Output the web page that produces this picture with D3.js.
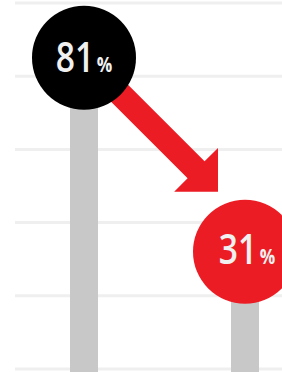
<!DOCTYPE html>
<html><head><meta charset="utf-8">
<script src="https://cdn.jsdelivr.net/npm/d3@7"></script>
<style>html,body{margin:0;padding:0;background:#fff;overflow:hidden}svg{display:block}</style>
</head><body>
<script>
const categories = ["Before", "After"];
const values = [81, 31];
const gridTicks = [0, 20, 40, 60, 80, 100];
const labelUnit = "%";

const W = 282, H = 372;
const svg = d3.select("body").append("svg").attr("width", W).attr("height", H);

const x = d3.scalePoint().domain(categories).range([84, 245]);
const y = d3.scaleLinear().domain([0, 100]).range([372, -16]);
const gy = d3.scaleLinear().domain([0, 100]).range([369, 3]);

// gridlines
svg.append("g").selectAll("line").data(gridTicks).join("line")
  .attr("x1", 15).attr("x2", W)
  .attr("y1", d => gy(d)).attr("y2", d => gy(d))
  .attr("stroke", "#efefef").attr("stroke-width", 3);

// bars
const bw = 28;
svg.append("g").selectAll("rect").data(values).join("rect")
  .attr("x", (d, i) => x(categories[i]) - bw / 2)
  .attr("width", bw)
  .attr("y", d => y(d))
  .attr("height", d => H - y(d))
  .attr("fill", "#c8c8c8");

// arrow
const red = "#ec1c24";
const sx = x(categories[0]), sy = y(values[0]);
const tipX = x(categories[1]) - 27;
const tipY = sy + (tipX - sx);
const ang = Math.atan2(tipY - sy, tipX - sx);
const len = Math.hypot(tipX - sx, tipY - sy);
const sw = 12, hw = 31, hl = 31;
const pts = [[0, -sw], [len - hl, -sw], [len - hl, -hw], [len, 0], [len - hl, hw], [len - hl, sw], [0, sw]];
svg.append("path")
  .attr("d", d3.line()(pts) + "Z")
  .attr("transform", `translate(${sx},${sy}) rotate(${ang * 180 / Math.PI})`)
  .attr("fill", red);

// circles
const r = 52;
const colors = ["#000000", red];
const g = svg.append("g").selectAll("g").data(values).join("g")
  .attr("transform", (d, i) => `translate(${x(categories[i])},${y(d)})`);
g.append("circle").attr("r", r).attr("fill", (d, i) => colors[i]);
const t = g.append("text")
  .attr("text-anchor", "middle")
  .attr("transform", (d, i) => `translate(${i ? 2 : 0},${i ? 12 : 14}) scale(0.82,1)`)
  .attr("fill", "#f0f0f0")
  .attr("font-family", "'Open Sans', sans-serif")
  .attr("font-weight", 600)
  .attr("font-size", 41);
t.append("tspan").text(d => d);
t.append("tspan").text(labelUnit).attr("font-size", 21).attr("font-weight", 700).attr("dx", 3);
</script>
</body></html>
